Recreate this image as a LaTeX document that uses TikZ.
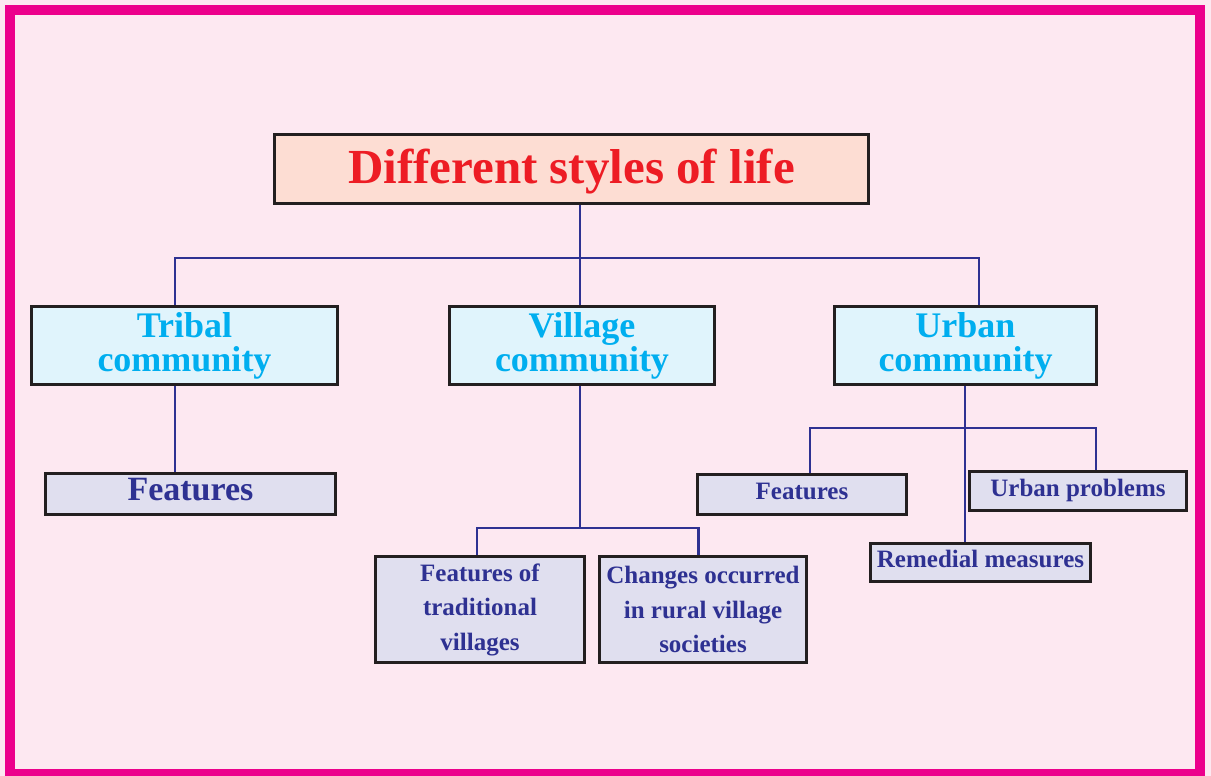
\documentclass[tikz,border=0pt]{standalone}
\usepackage{fontspec}
\setmainfont{Liberation Serif}
\usetikzlibrary{positioning, calc}
\definecolor{framepink}{HTML}{EC008C}
\definecolor{bgpink}{HTML}{FDE8F1}
\definecolor{titlefill}{HTML}{FDDDD3}
\definecolor{titlered}{HTML}{ED1C24}
\definecolor{cyanfill}{HTML}{E0F4FC}
\definecolor{cyantext}{HTML}{00AEEF}
\definecolor{lavfill}{HTML}{E0DFEF}
\definecolor{navy}{HTML}{2E3192}
\definecolor{boxline}{HTML}{231F20}

\begin{document}
\begin{tikzpicture}[
		x=1pt, y=-1pt,
		box/.style={draw=boxline, line width=2.6pt, inner sep=0pt, align=center},
		titlebox/.style={box, fill=titlefill, text=titlered, minimum width=594pt, minimum height=69pt, text height=33pt, text depth=5pt, font=\bfseries\fontsize{49}{51}\selectfont},
		community/.style={box, fill=cyanfill, text=cyantext, minimum height=78pt, font=\bfseries\fontsize{36}{34}\selectfont},
		topic/.style={box, fill=lavfill, text=navy, font=\bfseries\fontsize{25}{34.5}\selectfont},
		oneline/.style={text height=17pt, text depth=7pt},
		link/.style={draw=navy, line width=2.8pt}
		]
		% frame
		\useasboundingbox (0,0) rectangle (1211,776);
		\fill[bgpink] (0,0) rectangle (1211,776);
		\draw[framepink, line width=10pt] (10,10) rectangle (1200,774);
		
		% title
		\node[titlebox] (title) at (571.5,169) {Different styles of life};
		
		% communities
		\node[community, minimum width=306pt] (tribal) at (184.5,345.5) {Tribal\\community};
		\node[community, minimum width=265pt] (village) at (582,345.5) {Village\\community};
		\node[community, minimum width=262pt] (urban) at (965.5,345.5) {Urban\\community};
		
		% topics
		\node[topic, minimum width=290pt, minimum height=41pt, text height=23pt, text depth=9.5pt, font=\bfseries\fontsize{34}{36}\selectfont] (tfeat) at (190.5,494) {Features};
		\node[topic, minimum width=209pt, minimum height=106pt] (vfeat) at (480,609.5) {Features of\\traditional\\villages};
		\node[topic, minimum width=207pt, minimum height=106pt] (vchange) at (703,609.5) {Changes occurred\\in rural village\\societies};
		\node[topic, oneline, minimum width=209pt, minimum height=40pt] (ufeat) at (802,494.5) {Features};
		\node[topic, oneline, minimum width=217pt, minimum height=39pt] (uprob) at (1078,491) {Urban problems};
		\node[topic, oneline, minimum width=220pt, minimum height=38pt] (remedy) at (980.5,562.5) {Remedial measures};
		
		% connectors
		\coordinate (hub) at (580,258);
		\coordinate (vhub) at (580,528);
		\coordinate (uhub) at (965,428);
		\draw[link] (title.south -| hub) -- (village.north -| hub);
		\draw[link] ([xshift=-9.5pt]tribal.north) |- (hub) -| ([xshift=13.5pt]urban.north);
		\draw[link] ([xshift=-9.5pt]tribal.south) -- ([xshift=-9.5pt]tribal.south |- tfeat.north);
		\draw[link] (village.south -| vhub) -- (vhub);
		\draw[link] ([xshift=-3pt]vfeat.north) |- (vhub) -| ([xshift=-4.5pt]vchange.north);
		\draw[link] (urban.south -| uhub) -- (remedy.north -| uhub);
		\draw[link] ([xshift=8pt]ufeat.north) |- (uhub) -| ([xshift=18pt]uprob.north);
	\end{tikzpicture}
\end{document}
